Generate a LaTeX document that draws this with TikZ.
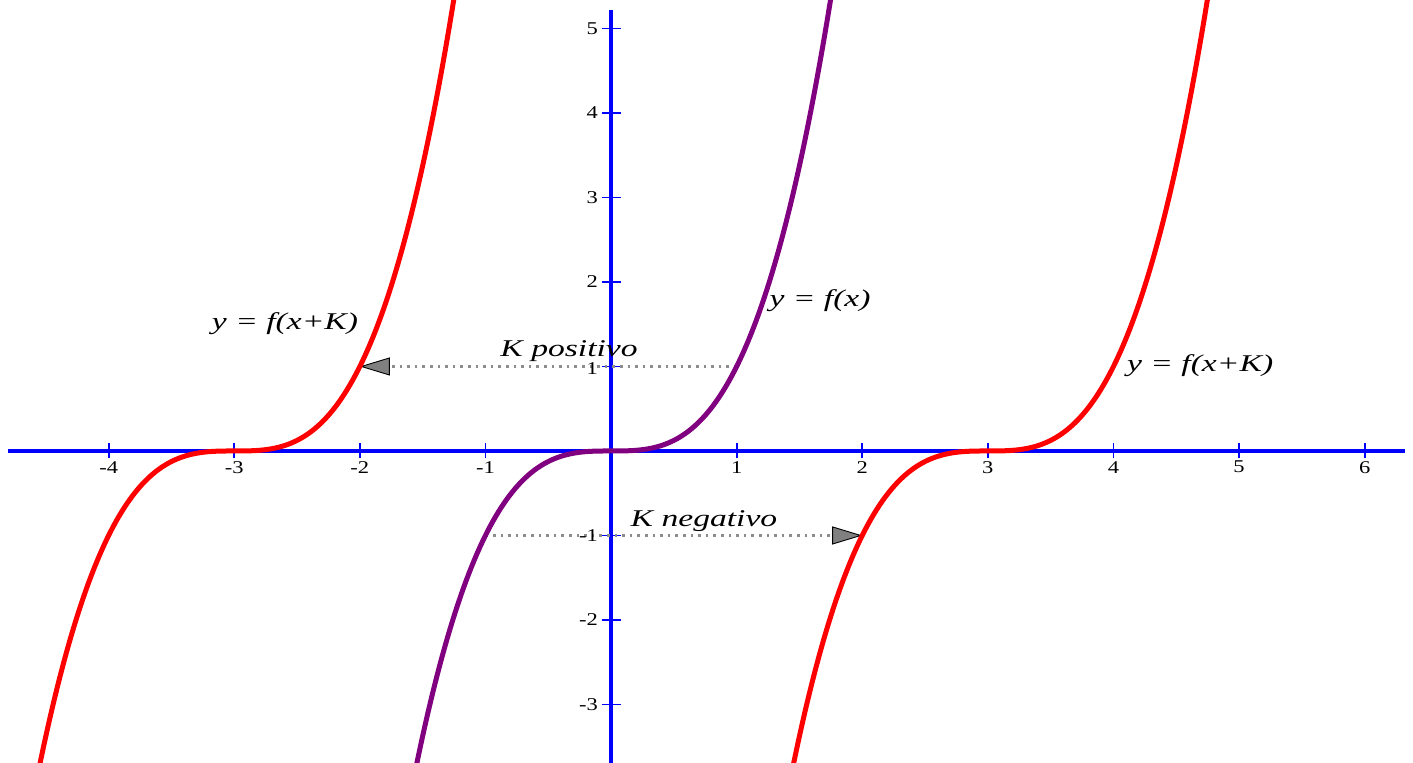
\documentclass[tikz,border=0pt]{standalone}
\usepackage{fontspec}
\newfontfamily\labfont{Liberation Serif}[FakeStretch=1.4]
\newfontfamily\tickfont{Liberation Serif}[FakeStretch=1.25]
\usetikzlibrary{arrows.meta}
\definecolor{curvepurple}{RGB}{128,0,128}
\definecolor{dotgray}{RGB}{140,140,140}
\definecolor{headgray}{RGB}{128,128,128}
\begin{document}
\begin{tikzpicture}[x=125.6pt,y=84.5pt,
  axisline/.style={blue, line width=3.2pt},
  tickmark/.style={blue, line width=1.8pt},
  xticklabel/.style={font=\tickfont\fontsize{18}{18}\selectfont, anchor=north, inner sep=0pt, yshift=-10pt},
  yticklabel/.style={font=\tickfont\fontsize{18}{18}\selectfont, anchor=east, inner sep=0pt, xshift=-13pt},
  fcurve/.style={curvepurple, line width=5pt},
  gcurve/.style={red, line width=5pt},
  shiftline/.style={dotgray, line width=2.6pt, dash pattern=on 2.6pt off 5pt,
    -{Triangle[length=30pt,width=18pt,fill=headgray,color=black,line width=0.9pt]}},
  eqlabel/.style={font=\labfont\itshape\fontsize{24}{24}\selectfont, anchor=base, inner sep=0pt}
]
\useasboundingbox (-4.865,-3.692) rectangle (6.385,5.337);
\clip (-4.865,-3.692) rectangle (6.385,5.337);
% axes
\coordinate (xl) at (-4.80,0);
\coordinate (xr) at (6.32,0);
\coordinate (yb) at (0,-3.75);
\coordinate (yt) at (0,5.22);
\draw[axisline] (xl) -- (xr);
\draw[axisline] (yb) -- (yt);
\foreach \t in {-4,-3,-2,-1,1,2,3,4,5,6}{
  \draw[tickmark] (\t,0) ++(0pt,-7.5pt) -- ++(0pt,15pt);
}
\foreach \t in {-3,-2,-1,1,2,3,4,5}{
  \draw[tickmark] (0,\t) ++(-9.5pt,0pt) -- ++(19pt,0pt);
}
% shift connectors
\coordinate (fA) at (1,1);
\coordinate (gA) at (-2,1);
\coordinate (fB) at (-1,-1);
\coordinate (gB) at (2,-1);
\draw[shiftline] (fA) -- (gA);
\draw[shiftline] (fB) -- (gB);
% tick labels
\foreach \t in {-4,-3,-2,-1,1,2,3,4,5,6}{
  \node[xticklabel] (xt\t) at (\t,0) {\t};
}
\foreach \t in {-3,-2,-1,2,3,4,5}{
  \node[yticklabel] (yt\t) at (0,\t) {\t};
}
\node[yticklabel, yshift=-2pt] (yt1) at (0,1) {1};
% curves
\draw[gcurve] plot[domain=-4.9:-1.2, samples=160, smooth] (\x,{(\x+3)*(\x+3)*(\x+3)});
\draw[gcurve] plot[domain=1.4:4.8, samples=160, smooth] (\x,{(\x-3)*(\x-3)*(\x-3)});
\draw[fcurve] plot[domain=-1.6:1.8, samples=160, smooth] (\x,{\x*\x*\x});
% labels
\node[eqlabel] (gLeft) at (-2.596,1.432) {y = f(x+K)};
\node[eqlabel] (kPos) at (-0.334,1.122) {K positivo};
\node[eqlabel] (fLab) at (1.664,1.704) {y = f(x)};
\node[eqlabel] (gRight) at (4.690,0.935) {y = f(x+K)};
\node[eqlabel] (kNeg) at (0.740,-0.899) {K negativo};
\end{tikzpicture}
\end{document}
